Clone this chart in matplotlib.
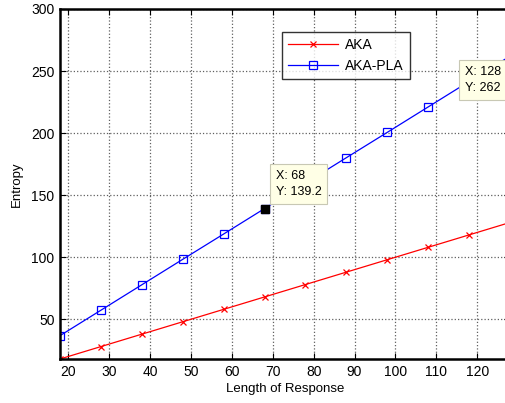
import matplotlib
matplotlib.use("Agg")
import matplotlib.pyplot as plt

x_vals = [18, 28, 38, 48, 58, 68, 78, 88, 98, 108, 118, 128]
aka = [18, 28, 38, 48, 58, 68, 78, 88, 98, 108, 118, 128]
aka_pla = [36.8, 57.3, 77.8, 98.3, 118.7, 139.2, 159.7, 180.2, 200.6, 221.1, 241.6, 262]
xticks = [20, 30, 40, 50, 60, 70, 80, 90, 100, 110, 120]
yticks = [50, 100, 150, 200, 250, 300]
tips = [(68, 139.2), (128, 262)]

plt.rcParams['font.family'] = ['Liberation Sans', 'DejaVu Sans']
fig = plt.figure(figsize=(5.06, 4.03), dpi=100)
ax = fig.add_axes([60/506, 44/403, 450/506, 350/403])

ax.plot(x_vals, aka, color='red', marker='x', markersize=4, linewidth=0.9,
        markeredgewidth=0.9, label='AKA')
ax.plot(x_vals, aka_pla, color='blue', marker='s', markersize=6, linewidth=0.9,
        markerfacecolor='none', markeredgewidth=0.9, label='AKA-PLA')

ax.set_xlim(18, 128)
ax.set_ylim(18, 300)
ax.set_xticks(xticks)
ax.set_yticks(yticks)
ax.tick_params(direction='in', top=True, right=True, length=4, width=0.8,
               labelsize=10, pad=4)
ax.grid(True, color='#606060', linestyle=':', linewidth=0.9)
for s in ax.spines.values():
    s.set_linewidth(1.8)

ax.set_xlabel('Length of Response', fontsize=9.5, labelpad=3)
ax.set_ylabel('Entropy', fontsize=9.5, labelpad=6)

leg = ax.legend(loc='upper left', bbox_to_anchor=((282-60)/450, (359-32)/350),
                fontsize=10, frameon=True, fancybox=False, edgecolor='black',
                borderpad=0.45, handlelength=3.6, labelspacing=0.45,
                borderaxespad=0, handletextpad=0.5)
leg.get_frame().set_linewidth(1.0)
leg.set_zorder(10)

# data tips
offsets = [(8.0, 7.6), (-6.6, -6.9)]
aligns = [('left', 'bottom'), ('right', 'top')]
for (tx, ty), off, (ha, va) in zip(tips, offsets, aligns):
    ax.plot([tx], [ty], marker='s', color='black', markersize=6, zorder=6,
            clip_on=False)
    ax.annotate(f'X: {tx:g}\nY: {ty:g}', xy=(tx, ty), xytext=off,
                textcoords='offset points', ha=ha, va=va, fontsize=9,
                linespacing=1.5, zorder=12,
                bbox=dict(boxstyle='square,pad=0.45', facecolor='#ffffe6',
                          edgecolor='#c8c8b4', linewidth=0.8))

fig.savefig('out.png', dpi=100)
